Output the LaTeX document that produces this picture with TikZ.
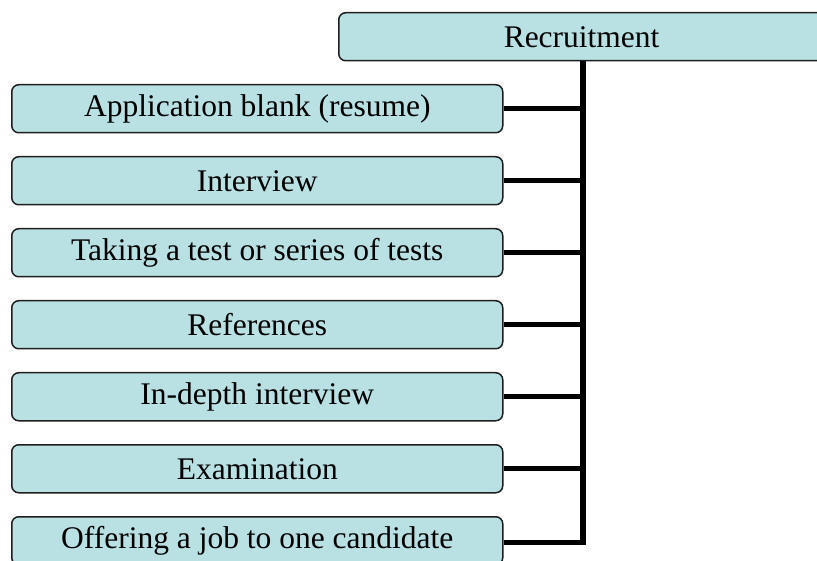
\documentclass[tikz,border=0pt]{standalone}
\usepackage{fontspec}
\setmainfont{Liberation Serif}
\definecolor{boxfill}{RGB}{185,224,227}
\definecolor{boxline}{RGB}{30,30,30}
\begin{document}
\begin{tikzpicture}[x=1pt,y=-1pt,
  stepbox/.style={draw=boxline, line width=1.5pt, fill=boxfill, rounded corners=7pt,
    minimum width=491pt, minimum height=48pt, inner sep=0pt, anchor=north west,
    font=\fontsize{31.5pt}{36pt}\selectfont},
  link/.style={line width=5pt, black},
  trunk/.style={line width=6pt, black}]
\useasboundingbox (0,0) rectangle (817,561);
\clip (0,0) rectangle (817,561);
% head of the chart
\node[stepbox, text width=491pt, align=left] (rec) at (338,12)
  {\hspace*{165pt}Recruitment};
% the seven steps
\node[stepbox] (s1) at (11,84)  {Application blank (resume)};
\node[stepbox] (s2) at (11,156) {Interview};
\node[stepbox] (s3) at (11,228) {Taking a test or series of tests};
\node[stepbox] (s4) at (11,300) {References};
\node[stepbox] (s5) at (11,372) {In-depth interview};
\node[stepbox] (s6) at (11,444) {Examination};
\node[stepbox] (s7) at (11,516) {Offering a job to one candidate};
% trunk from the head down to the last step
\coordinate (top) at (583,61);
\coordinate (bot) at (583,542.5);
\draw[trunk] (top) -- (bot);
% branches to each step
\foreach \s in {s1,s2,s3,s4,s5,s6}
  \draw[link] (\s.east) -- (\s.east -| top);
\draw[link] (s7.east |- bot) -- ([xshift=3pt]bot);
\end{tikzpicture}
\end{document}
